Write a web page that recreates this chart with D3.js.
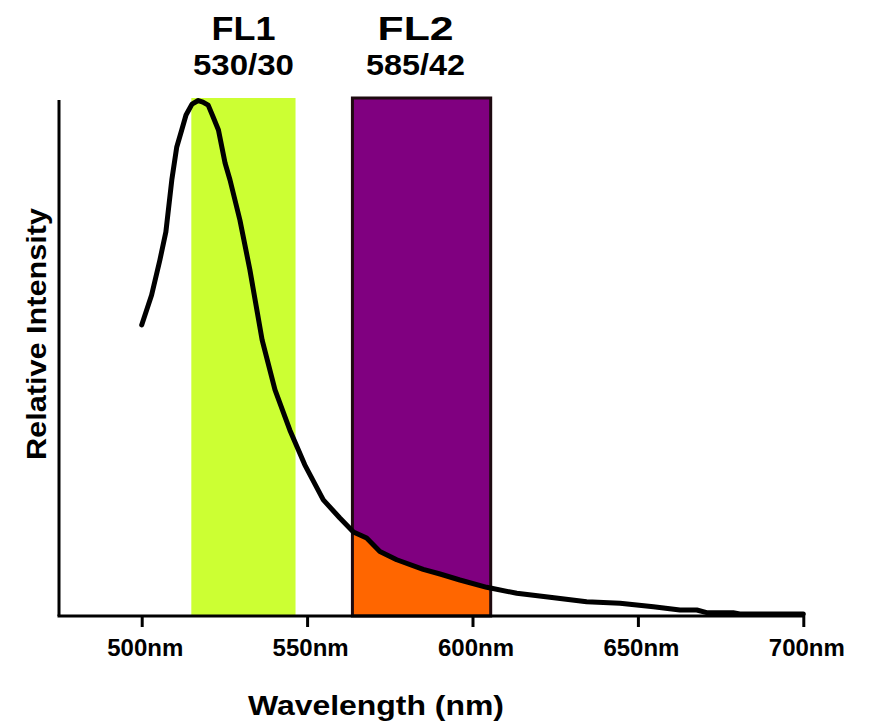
<!DOCTYPE html>
<html>
<head>
<meta charset="utf-8">
<script src="https://cdn.jsdelivr.net/npm/d3@7/dist/d3.min.js"></script>
<style>
  html, body { margin: 0; padding: 0; background: #fff; }
  svg { display: block; }
  text { font-family: "Liberation Sans", Arial, Helvetica, sans-serif; font-weight: bold; fill: #000; }
</style>
</head>
<body>
<svg id="chart" width="870" height="726"></svg>
<script>
// Emission spectrum (wavelength in nm, normalised intensity)
const wavelength = [500, 503, 505.5, 507.3, 509.1, 510.6, 512.1, 513.4, 515.2, 517.1, 518.5, 520.1, 521.6, 523.2, 525.2, 526.7, 529.7, 532.7, 536.4, 540.3, 544.8, 549.3, 554.9, 559.9, 564, 568, 572, 577.1, 585.1, 590.2, 596.2, 604.3, 613.4, 623.4, 634.5, 644.6, 654.7, 662.7, 667.8, 670.8, 678.8, 680.8, 700];
const intensity  = [0.564, 0.622, 0.690, 0.744, 0.845, 0.909, 0.942, 0.971, 0.992, 0.999, 0.996, 0.990, 0.967, 0.942, 0.878, 0.845, 0.767, 0.671, 0.535, 0.438, 0.360, 0.293, 0.225, 0.190, 0.163, 0.151, 0.125, 0.109, 0.0905, 0.0814, 0.0698, 0.0556, 0.0440, 0.0362, 0.0277, 0.0246, 0.0180, 0.0116, 0.0116, 0.0064, 0.0064, 0.0039, 0.0039];

// Filter channels: name, centre/bandwidth label, passband edges (nm)
const filterNames  = ["FL1", "FL2"];
const filterLabels = ["530/30", "585/42"];
const filterLo     = [515, 563.7];
const filterHi     = [546.5, 605.5];

const xTicks = [500, 550, 600, 650, 700];

const svg = d3.select("#chart");
const axisY = 616, plotTop = 98, yAxisX = 59;

const x = d3.scaleLinear().domain([500, 700]).range([141.7, 803.3]);
const y = d3.scaleLinear().domain([0, 1]).range([axisY, 100]);

const pts = wavelength.map((w, i) => ({ w, v: intensity[i] }));

// FL1 band
svg.append("rect")
  .attr("x", x(filterLo[0])).attr("y", plotTop)
  .attr("width", x(filterHi[0]) - x(filterLo[0]))
  .attr("height", axisY - plotTop)
  .attr("fill", "#ccff33");

// FL2 band
svg.append("rect")
  .attr("x", x(filterLo[1])).attr("y", plotTop)
  .attr("width", x(filterHi[1]) - x(filterLo[1]))
  .attr("height", axisY - plotTop)
  .attr("fill", "#800080");

// Portion of the emission captured by FL2
svg.append("clipPath").attr("id", "fl2clip")
  .append("rect")
  .attr("x", x(filterLo[1])).attr("y", plotTop)
  .attr("width", x(filterHi[1]) - x(filterLo[1]))
  .attr("height", axisY - plotTop);

svg.append("path")
  .datum(pts)
  .attr("clip-path", "url(#fl2clip)")
  .attr("fill", "#ff6600")
  .attr("d", d3.area().x(d => x(d.w)).y0(axisY).y1(d => y(d.v)));

svg.append("rect")
  .attr("x", x(filterLo[1])).attr("y", plotTop)
  .attr("width", x(filterHi[1]) - x(filterLo[1]))
  .attr("height", axisY - plotTop)
  .attr("fill", "none")
  .attr("stroke", "#1e0a10")
  .attr("stroke-width", 3);

// Axes
const xAxis = d3.axisBottom(x).tickValues(xTicks).tickSize(11).tickPadding(8)
  .tickFormat(d => d + "nm");
const gx = svg.append("g").attr("transform", `translate(0,${axisY})`).call(xAxis);
gx.select(".domain").remove();
gx.selectAll(".tick line").attr("stroke", "#000").attr("stroke-width", 3);
gx.selectAll(".tick text")
  .attr("font-size", 24).attr("dx", 3).attr("dy", null).attr("y", 40)
  .style("font-family", "'Liberation Sans', Arial, sans-serif").style("font-weight", "bold");

svg.append("line")
  .attr("x1", yAxisX - 1.5).attr("x2", x(700) + 1.5)
  .attr("y1", axisY).attr("y2", axisY)
  .attr("stroke", "#000").attr("stroke-width", 3);

svg.append("line")
  .attr("x1", yAxisX).attr("x2", yAxisX)
  .attr("y1", 100).attr("y2", axisY)
  .attr("stroke", "#000").attr("stroke-width", 3);

// Emission curve
svg.append("path")
  .datum(pts)
  .attr("fill", "none")
  .attr("stroke", "#000")
  .attr("stroke-width", 5)
  .attr("stroke-linejoin", "round")
  .attr("stroke-linecap", "round")
  .attr("d", d3.line().x(d => x(d.w)).y(d => y(d.v)));

// Channel labels
const nameLen = [64, 76], bandLen = [101, 99], labelShift = [0, -6];
filterNames.forEach((n, i) => {
  const cx = (x(filterLo[i]) + x(filterHi[i])) / 2 + labelShift[i];
  svg.append("text").attr("x", cx).attr("y", 40)
    .attr("text-anchor", "middle").attr("font-size", 34)
    .attr("textLength", nameLen[i]).attr("lengthAdjust", "spacingAndGlyphs")
    .text(n);
  svg.append("text").attr("x", cx).attr("y", 75)
    .attr("text-anchor", "middle").attr("font-size", 29)
    .attr("textLength", bandLen[i]).attr("lengthAdjust", "spacingAndGlyphs")
    .text(filterLabels[i]);
});

// Axis titles
svg.append("text").attr("x", 376).attr("y", 715)
  .attr("text-anchor", "middle").attr("font-size", 28)
  .attr("textLength", 256).attr("lengthAdjust", "spacingAndGlyphs")
  .text("Wavelength (nm)");

svg.append("text")
  .attr("transform", "translate(46,334) rotate(-90)")
  .attr("text-anchor", "middle").attr("font-size", 28)
  .attr("textLength", 252).attr("lengthAdjust", "spacingAndGlyphs")
  .text("Relative Intensity");
</script>
</body>
</html>
